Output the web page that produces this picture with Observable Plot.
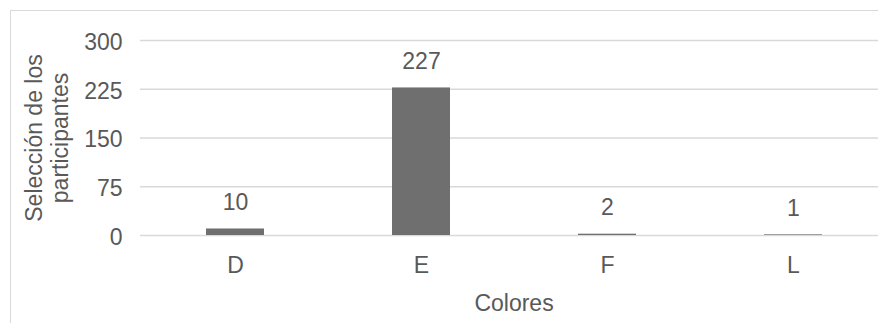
<!DOCTYPE html>
<html>
<head>
<meta charset="utf-8">
<script src="https://cdn.jsdelivr.net/npm/d3@7"></script>
<script src="https://cdn.jsdelivr.net/npm/@observablehq/plot@0.6"></script>
<style>
  html, body { margin: 0; padding: 0; background: #fff; overflow: hidden; }
  #wrap { position: relative; width: 878px; height: 323px; overflow: hidden; font-family: "Liberation Sans", Arial, sans-serif; }
  #frame { position: absolute; left: 10px; top: 10px; width: 900px; height: 400px; border: 1.5px solid #d9d9d9; box-sizing: border-box; }
  #chart { position: absolute; left: 0; top: 0; width: 900px; height: 323px; }
  #chart svg { max-width: none !important; }
</style>
</head>
<body>
<div id="wrap"><div id="frame"></div><div id="chart"></div></div>
<script>
const categories = ["D", "E", "F", "L"];
const values = [10, 227, 2, 1];
const yTicks = [0, 75, 150, 225, 300];
const xTitle = "Colores";
const yTitleLines = ["Selección de los", "participantes"];

const data = categories.map((c, i) => ({ cat: c, value: values[i] }));
const txt = "#595959";
const fs = 23;

const chart = Plot.plot({
  width: 900,
  height: 323,
  marginLeft: 140,
  marginRight: 13,
  marginTop: 40,
  marginBottom: 88,
  style: { fontFamily: "'Liberation Sans', Arial, sans-serif", fontSize: fs + "px", color: txt, background: "transparent", maxWidth: "none" },
  x: { domain: categories, paddingInner: 0.69, paddingOuter: 0.345, axis: null },
  y: { domain: [0, 300], axis: null },
  marks: [
    Plot.gridY(yTicks, { stroke: "#d9d9d9", strokeOpacity: 1, strokeWidth: 1.5 }),
    Plot.barY(data, { x: "cat", y: "value", fill: "#6f6f6f" }),
    Plot.axisY(yTicks, { tickSize: 0, tickPadding: 18, fill: txt, fontSize: fs, dy: 2, label: null }),
    Plot.axisX({ tickSize: 0, tickPadding: 21, fill: txt, fontSize: fs, label: null }),
    Plot.text(data, { x: "cat", y: "value", text: d => String(d.value), lineAnchor: "bottom", dy: -19, fill: txt, fontSize: fs }),
    Plot.text([xTitle], { text: d => d, frameAnchor: "bottom", lineAnchor: "bottom", dy: 75, fill: txt, fontSize: fs }),
    Plot.text([yTitleLines[0]], { text: d => d, frameAnchor: "left", rotate: -90, lineAnchor: "bottom", textAnchor: "middle", dx: -99, fill: txt, fontSize: fs }),
    Plot.text([yTitleLines[1]], { text: d => d, frameAnchor: "left", rotate: -90, lineAnchor: "bottom", textAnchor: "middle", dx: -73, fill: txt, fontSize: fs })
  ]
});
document.getElementById("chart").appendChild(chart);
</script>
</body>
</html>
